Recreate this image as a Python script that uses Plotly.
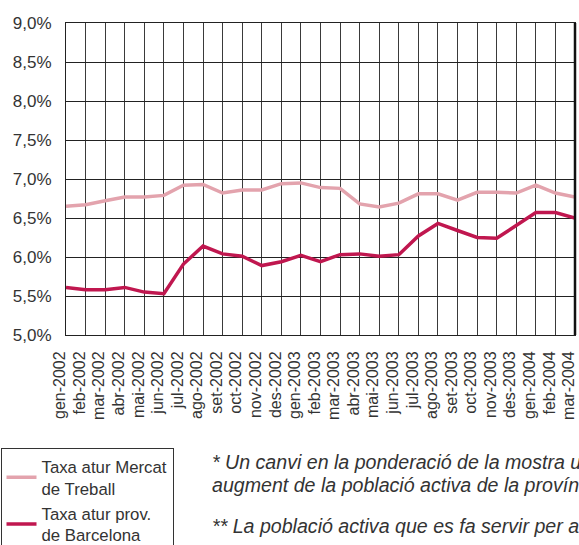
import plotly.graph_objects as go

months = ["gen-2002", "feb-2002", "mar-2002", "abr-2002", "mai-2002", "jun-2002",
          "jul-2002", "ago-2002", "set-2002", "oct-2002", "nov-2002", "des-2002",
          "gen-2003", "feb-2003", "mar-2003", "abr-2003", "mai-2003", "jun-2003",
          "jul-2003", "ago-2003", "set-2003", "oct-2003", "nov-2003", "des-2003",
          "gen-2004", "feb-2004", "mar-2004"]

mercat_treball = [6.65, 6.67, 6.72, 6.77, 6.77, 6.79, 6.92, 6.93, 6.82, 6.86, 6.86, 6.94,
                  6.95, 6.89, 6.88, 6.68, 6.64, 6.69, 6.81, 6.81, 6.73, 6.83, 6.83, 6.82,
                  6.92, 6.82, 6.77]

prov_barcelona = [5.61, 5.58, 5.58, 5.61, 5.55, 5.53, 5.91, 6.14, 6.04, 6.01, 5.89, 5.94,
                  6.02, 5.94, 6.03, 6.04, 6.01, 6.03, 6.27, 6.43, 6.34, 6.25, 6.24, 6.41,
                  6.57, 6.57, 6.50]

y_ticks = [5.0, 5.5, 6.0, 6.5, 7.0, 7.5, 8.0, 8.5, 9.0]
y_tick_labels = ["5,0%", "5,5%", "6,0%", "6,5%", "7,0%", "7,5%", "8,0%", "8,5%", "9,0%"]

names = ["Taxa atur Mercat<br>de Treball", "Taxa atur prov.<br>de Barcelona"]

footnote_lines = [
    "* Un canvi en la ponderació de la mostra utilitzada per l'EPA",
    "augment de la població activa de la província de Barcelona.",
    "** La població activa que es fa servir per al càlcul de la taxa",
]

FONT = "Liberation Sans, Arial, Helvetica, sans-serif"
TXT = "#333333"

# plot area in pixels (from the reference)
L, R, T, B = 66, 575, 23, 335
W, H = 579, 545

fig = go.Figure()
fig.add_trace(go.Scatter(x=months, y=mercat_treball, mode="lines", name=names[0],
                         line=dict(color="#e3a3ad", width=3.5)))
fig.add_trace(go.Scatter(x=months, y=prov_barcelona, mode="lines", name=names[1],
                         line=dict(color="#c0174f", width=3.5)))

note_y = [462, 485, 526]
annotations = [dict(text=t, xref="paper", yref="paper",
                    x=(210 - L) / (R - L), y=(B - yy) / (B - T),
                    xanchor="left", yanchor="middle", align="left",
                    showarrow=False,
                    font=dict(size=19.6, family=FONT, color=TXT, style="italic"))
               for t, yy in zip(footnote_lines, note_y)]

fig.update_layout(
    width=W, height=H,
    margin=dict(l=L, r=W - R, t=T, b=H - B, autoexpand=False),
    paper_bgcolor="white", plot_bgcolor="white",
    font=dict(family=FONT, color=TXT, size=16),
    showlegend=True,
    legend=dict(xref="container", yref="container",
                x=0.5 / W, y=1 - 448 / H, xanchor="left", yanchor="top",
                bordercolor="#333333", borderwidth=1, bgcolor="white",
                font=dict(size=16.8, family=FONT, color=TXT),
                itemwidth=30, tracegroupgap=0),
    annotations=annotations,
)

fig.update_xaxes(type="category", range=[0, len(months) - 1], automargin=False,
                 tickmode="array", tickvals=months, ticktext=months,
                 showgrid=True, gridcolor="#3a3a3a", gridwidth=1,
                 showline=True, linecolor="#222222", linewidth=1, mirror=True,
                 tickangle=-90, tickfont=dict(size=16, family=FONT, color=TXT),
                 ticks="", ticklabelshift=-6, ticklabelstandoff=9,
                 zeroline=False)
fig.update_yaxes(range=[5.0, 9.0], tickvals=y_ticks, ticktext=y_tick_labels,
                 automargin=False,
                 showgrid=True, gridcolor="#222222", gridwidth=1,
                 showline=True, linecolor="#222222", linewidth=1, mirror=True,
                 ticks="", tickfont=dict(size=17, family=FONT, color=TXT),
                 ticklabelstandoff=10, zeroline=False)

# thicker right frame edge, as in the reference
fig.add_shape(type="line", xref="paper", yref="paper", x0=1, x1=1, y0=0, y1=1,
              line=dict(color="#111111", width=2.5))

fig.write_html(
    "out.html",
    config={"displayModeBar": False},
    post_script="document.body.style.margin='0';document.body.style.padding='0';"
                "document.body.style.overflow='hidden';window.dispatchEvent(new Event('resize'));",
)
